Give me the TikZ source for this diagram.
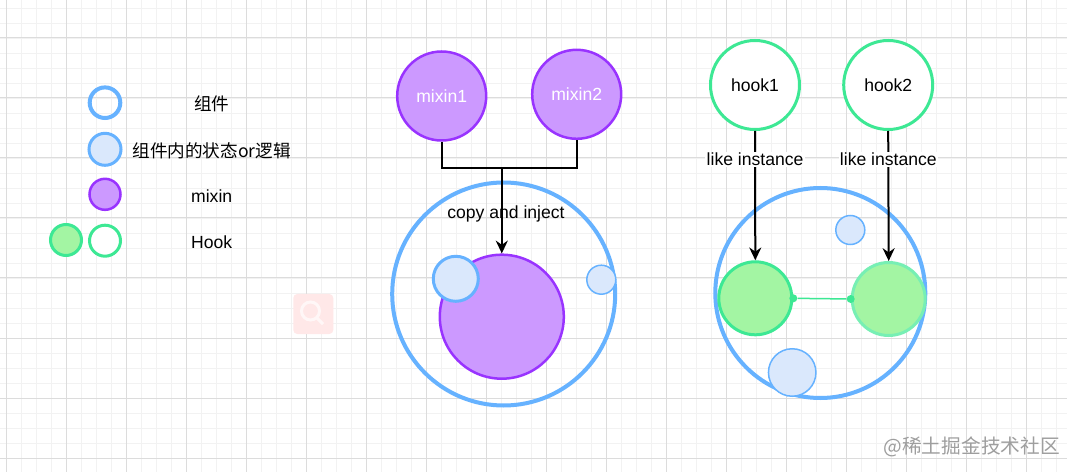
\documentclass[tikz,border=0pt]{standalone}
\usepackage{fontspec}
\setmainfont{Liberation Sans}
\newfontfamily\cjk{Noto Sans CJK SC}
\usetikzlibrary{positioning,arrows.meta}

\definecolor{compblue}{HTML}{66B2FF}
\definecolor{statefill}{HTML}{DAE8FC}
\definecolor{mixfill}{HTML}{CC99FF}
\definecolor{mixline}{HTML}{9933FF}
\definecolor{hookline}{HTML}{3DE894}
\definecolor{hookfill}{HTML}{A3F5A3}
\definecolor{gridmajor}{HTML}{DCDCDC}
\definecolor{gridminor}{HTML}{F2F2F2}

\def\px{0.025cm}

\tikzset{
        ball/.style={circle, inner sep=0pt, minimum size=#1*\px},
        compcircle/.style={ball=#1, draw=compblue, line width=4*\px},
        statecircle/.style={ball=#1, draw=compblue, fill=statefill, line width=3*\px},
        thinstate/.style={ball=#1, draw=compblue, fill=statefill, line width=1.5*\px},
        mixcircle/.style={ball=#1, draw=mixline, fill=mixfill, line width=2.5*\px},
        hookcircle/.style={ball=#1, draw=hookline, fill=white, line width=3*\px},
        hookfilled/.style={ball=#1, draw=hookline, fill=hookfill, line width=3*\px},
        txt/.style={font=\fontsize{12.5}{15}\selectfont, inner sep=0pt},
        flow/.style={line width=2*\px, -{Stealth[length=3.2mm, width=3mm]}},
        linkdot/.style={circle, fill=hookline, inner sep=0pt, minimum size=8*\px}
}

\begin{document}
\begin{tikzpicture}[x=0.025cm, y=-0.025cm]

        \useasboundingbox (0,0) rectangle (1067,472);
        \fill[white] (0,0) rectangle (1067,472);

        \foreach \i in {0,...,70}
                \draw[gridminor, line width=0.5*\px] (6.7+15*\i,0) -- (6.7+15*\i,472);
        \foreach \j in {0,...,31}
                \draw[gridminor, line width=0.5*\px] (0,8+15*\j) -- (1067,8+15*\j);
        \foreach \i in {0,...,17}
                \draw[gridmajor, line width=1*\px] (6.7+60*\i,0) -- (6.7+60*\i,472);
        \foreach \j in {0,...,7}
                \draw[gridmajor, line width=1*\px] (0,38+60*\j) -- (1067,38+60*\j);

        \node[compcircle=30.6] (legcomp) at (105,102.7) {};
        \node[statecircle=32] (legstate) at (105,149.3) {};
        \node[mixcircle=31] (legmix) at (105,194.3) {};
        \node[hookfilled=31] (leghookin) at (66,240) {};
        \node[hookcircle=31] (leghook) at (105,240.7) {};

        \node[txt] (legcomptxt) at (211.7,104) {\cjk 组件};
        \node[txt] (legstatetxt) at (211.7,151) {\cjk 组件内的状态or逻辑};
        \node[txt] (legmixtxt) at (211.7,196) {mixin};
        \node[txt] (leghooktxt) at (211.7,242.7) {Hook};

        \node[compcircle=223] (mixhost) at (503.7,294) {};
        \node[mixcircle=124] (mixcore) at (501.8,316.7) {};
        \node[statecircle=45] (mixstatea) at (455.8,278.8) {};
        \node[thinstate=29] (mixstateb) at (601.3,279.7) {};

        \node[mixcircle=89, text=white, txt] (mixin1) at (441.7,96) {mixin1};
        \node[mixcircle=89, text=white, txt] (mixin2) at (576.7,94.3) {mixin2};

        \coordinate (join) at (501.8,168.3);
        \draw[line width=2*\px] (mixin1.south) |- (join) -| (mixin2.south);
        \draw[flow] (join) -- (mixcore.north);
        \node[txt] (copytxt) at (506,214) {copy and inject};

        \node[compcircle=210] (hookhost) at (820.3,293) {};
        \node[thinstate=29] (hookstatea) at (850.3,230) {};
        \node[thinstate=47.5] (hookstateb) at (792.2,372.5) {};
        \node[hookfilled=73] (inst1) at (755.3,298.3) {};
        \node[hookfilled=73, draw=hookline!70] (inst2) at (888.7,299) {};

        \node[linkdot] (dot1) at (inst1.east) {};
        \node[linkdot] (dot2) at (inst2.west) {};
        \draw[hookline, line width=1.5*\px] (dot1) -- (dot2);

        \node[hookcircle=89, txt] (hook1) at (755,85) {hook1};
        \node[hookcircle=89, txt] (hook2) at (888.2,85) {hook2};

        \draw[flow] (hook1.south) -- node[pos=0.22, txt, fill=white, inner sep=1pt] (like1) {like instance} (inst1.north);
        \draw[flow] (hook2.south) -- node[pos=0.22, txt, fill=white, inner sep=1pt] (like2) {like instance} (inst2.north);

        \node[fill=red!9, rounded corners=4*\px, minimum size=40*\px] (lens) at (313.3,314) {};
        \draw[red!3, line width=3*\px] (310.5,311) circle (9);
        \draw[red!3, line width=3*\px] (317,318) -- (323,324);

        \node[font=\cjk\fontsize{14}{16}\selectfont, text=black!38] (mark) at (971.7,446.7) {@稀土掘金技术社区};

\end{tikzpicture}
\end{document}
